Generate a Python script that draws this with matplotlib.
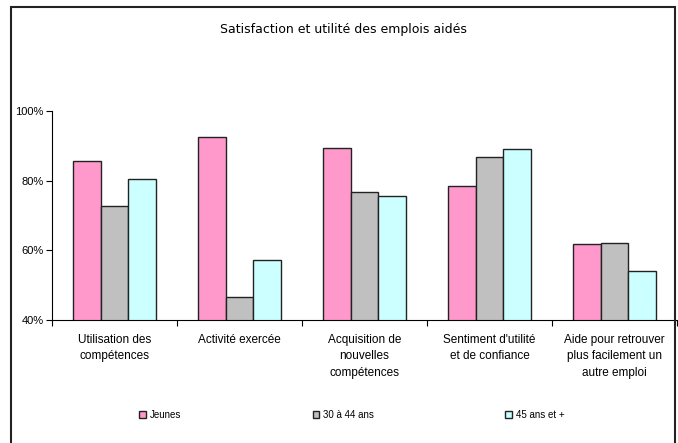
import numpy as np
import matplotlib.pyplot as plt
from matplotlib.patches import Rectangle

categories = ["Utilisation des\ncompétences", "Activité exercée",
              "Acquisition de\nnouvelles\ncompétences",
              "Sentiment d'utilité\net de confiance",
              "Aide pour retrouver\nplus facilement un\nautre emploi"]
jeunes = [85.6, 92.6, 89.5, 78.4, 61.7]
age_30_44 = [72.8, 46.6, 76.8, 86.8, 62.1]
age_45_plus = [80.4, 57.3, 75.6, 89.1, 54.2]
series_names = ["Jeunes", "30 à 44 ans", "45 ans et +"]
colors = ["#FF99CC", "#C0C0C0", "#CCFFFF"]

plt.rcParams['font.family'] = ['Liberation Sans', 'DejaVu Sans']

fig = plt.figure(figsize=(6.78, 4.43), dpi=100)
ax = fig.add_axes([52/678, 1-320/443, 625/678, 209/443])

x = np.arange(len(categories))
w = 0.22
for i, (vals, name, c) in enumerate(zip([jeunes, age_30_44, age_45_plus], series_names, colors)):
    ax.bar(x + (i - 1)*w, vals, w, bottom=0, color=c, edgecolor="#222222",
           linewidth=1.0, label=name)

ax.set_ylim(40, 100)
ax.set_xlim(-0.5, len(categories) - 0.5)
ax.set_yticks([40, 60, 80, 100])
ax.set_yticklabels(["40%", "60%", "80%", "100%"], fontsize=8)
ax.set_xticks(x)
ax.set_xticklabels(categories, fontsize=8.5, linespacing=1.5)
ax.tick_params(axis='x', which='major', length=0, pad=10)
ax.set_xticks(np.arange(-0.5, len(categories)), minor=True)
ax.tick_params(axis='x', which='minor', length=4, width=0.8, direction='out')
ax.tick_params(axis='y', length=4, width=0.8, pad=2)
ax.spines['top'].set_visible(False)
ax.spines['right'].set_visible(False)
ax.spines['left'].set_linewidth(0.8)
ax.spines['bottom'].set_linewidth(0.8)

fig.text(343/678, 1-30/443, "Satisfaction et utilité des emplois aidés",
         ha='center', va='center', fontsize=9, family='DejaVu Sans')

fig.legend(loc='center', bbox_to_anchor=(352/678, 1-415/443), ncol=3,
           frameon=False, fontsize=7, handlelength=0.7, handleheight=0.7,
           handletextpad=0.4, columnspacing=13.5)

fig.patches.append(Rectangle((11/678, -0.05), 664/678, 1.05 - 7/443,
                             transform=fig.transFigure, fill=False,
                             edgecolor="#222222", linewidth=1.5))

fig.savefig("out.png", dpi=100)
